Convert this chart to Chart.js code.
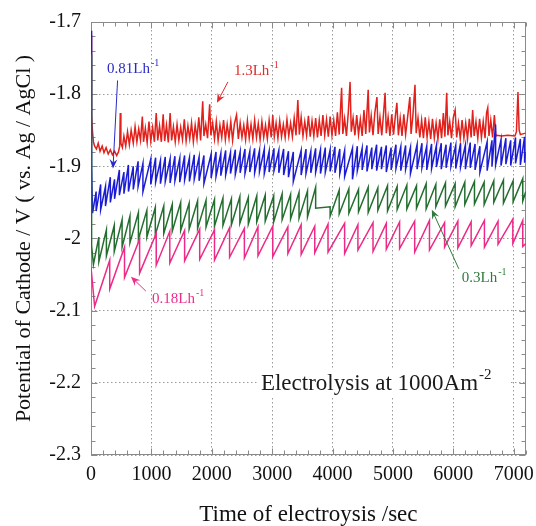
<!DOCTYPE html>
<html>
<head>
<meta charset="utf-8">
<script src="https://cdn.jsdelivr.net/npm/chart.js@4.4.0/dist/chart.umd.min.js"></script>
<style>
  html, body { margin: 0; padding: 0; background: #fff; }
</style>
</head>
<body>
<canvas id="potentialChart" width="536" height="526"></canvas>
<script>
// cathode potential vs time, four air flow rates

// 0.18 Lh-1 : start, then sawtooth (drop time, value before drop, value after drop)
const pinkHeadTime = [0, 60];
const pinkHeadVolt = [-2.040, -2.094];
const pinkDrop = [310, 555, 805, 1080, 1305, 1550, 1800, 2045, 2295, 2540,
  2765, 3010, 3260, 3480, 3705, 3925, 4200, 4420, 4670, 4890,
  5110, 5360, 5605, 5855, 6075, 6295, 6515, 6740, 6985, 7150];
const pinkPeak = [-2.030, -2.012, -2.001, -1.993, -1.990, -1.989, -1.987, -1.988, -1.985, -1.986,
  -1.984, -1.983, -1.984, -1.981, -1.983, -1.980, -1.979, -1.981, -1.978, -1.979,
  -1.977, -1.976, -1.975, -1.978, -1.976, -1.977, -1.975, -1.976, -1.973, -1.975];
const pinkTrough = [-2.070, -2.054, -2.048, -2.037, -2.034, -2.031, -2.029, -2.030, -2.026, -2.027,
  -2.024, -2.025, -2.021, -2.022, -2.020, -2.019, -2.021, -2.016, -2.018, -2.015,
  -2.014, -2.019, -2.016, -2.012, -2.013, -2.010, -2.012, -2.008, -2.007, -2.011];
const pinkTailTime = [7200];
const pinkTailVolt = [-2.007];

// 0.3 Lh-1
const greenHeadTime = [0, 5, 15, 40];
const greenHeadVolt = [-1.745, -1.960, -2.010, -2.036];
const greenDrop = [130, 255, 385, 515, 645, 785, 925, 1065, 1205, 1345,
  1485, 1625, 1765, 1905, 2045, 2185, 2325, 2465, 2605, 2745,
  2885, 3025, 3165, 3305, 3445, 3585, 3720, 3960, 4110, 4270,
  4430, 4590, 4750, 4910, 5070, 5230, 5390, 5550, 5710, 5870,
  6030, 6190, 6350, 6510, 6670, 6830, 6990, 7150];
const greenPeak = [-1.998, -1.988, -1.982, -1.974, -1.969, -1.964, -1.961, -1.957, -1.955, -1.953,
  -1.950, -1.951, -1.948, -1.947, -1.946, -1.944, -1.945, -1.942, -1.943, -1.941,
  -1.940, -1.941, -1.938, -1.939, -1.936, -1.934, -1.929, -1.956, -1.933, -1.931,
  -1.932, -1.929, -1.930, -1.927, -1.928, -1.926, -1.927, -1.924, -1.925, -1.923,
  -1.924, -1.922, -1.921, -1.922, -1.920, -1.919, -1.920, -1.917];
const greenTrough = [-2.032, -2.024, -2.018, -2.012, -2.006, -2.001, -1.998, -1.995, -1.993, -1.990,
  -1.989, -1.987, -1.986, -1.984, -1.983, -1.982, -1.981, -1.979, -1.980, -1.977,
  -1.976, -1.977, -1.974, -1.973, -1.972, -1.970, -1.958, -1.969, -1.966, -1.965,
  -1.963, -1.964, -1.961, -1.962, -1.960, -1.959, -1.958, -1.959, -1.956, -1.955,
  -1.956, -1.953, -1.952, -1.953, -1.950, -1.951, -1.949, -1.948];
const greenTailTime = [7200];
const greenTailVolt = [-1.935];

// 0.81 Lh-1
const blueHeadTime = [0, 10, 25];
const blueHeadVolt = [-1.712, -1.900, -1.965];
const blueDrop = [85, 160, 240, 320, 390, 470, 545, 620, 700, 780,
  860, 990, 1070, 1150, 1230, 1310, 1390, 1470, 1550, 1630,
  1710, 1790, 1870, 1990, 2070, 2150, 2230, 2310, 2390, 2470,
  2550, 2630, 2710, 2790, 2870, 2950, 3030, 3110, 3190, 3270,
  3350, 3480, 3560, 3640, 3720, 3800, 3880, 3960, 4040, 4120,
  4200, 4330, 4410, 4490, 4570, 4650, 4730, 4810, 4890, 4970,
  5050, 5130, 5210, 5290, 5400, 5480, 5560, 5640, 5720, 5800,
  5880, 5960, 6040, 6120, 6200, 6280, 6360, 6440, 6560, 6640,
  6700, 6790, 6870, 6950, 7030, 7110, 7180];
const bluePeak = [-1.935, -1.925, -1.928, -1.915, -1.918, -1.905, -1.908, -1.898, -1.900, -1.893,
  -1.896, -1.890, -1.888, -1.892, -1.887, -1.890, -1.886, -1.889, -1.885, -1.888,
  -1.884, -1.887, -1.885, -1.883, -1.880, -1.882, -1.878, -1.881, -1.877, -1.880,
  -1.876, -1.879, -1.875, -1.878, -1.876, -1.879, -1.875, -1.878, -1.876, -1.879,
  -1.880, -1.878, -1.876, -1.879, -1.875, -1.877, -1.874, -1.877, -1.873, -1.876,
  -1.878, -1.875, -1.872, -1.875, -1.871, -1.874, -1.870, -1.873, -1.871, -1.874,
  -1.870, -1.873, -1.871, -1.874, -1.870, -1.868, -1.872, -1.869, -1.871, -1.868,
  -1.870, -1.867, -1.871, -1.868, -1.870, -1.867, -1.869, -1.872, -1.866, -1.864,
  -1.842, -1.863, -1.861, -1.864, -1.860, -1.862, -1.859];
const blueTrough = [-1.962, -1.960, -1.955, -1.950, -1.945, -1.940, -1.938, -1.935, -1.932, -1.928,
  -1.935, -1.925, -1.922, -1.924, -1.921, -1.923, -1.920, -1.922, -1.919, -1.921,
  -1.918, -1.920, -1.924, -1.916, -1.914, -1.913, -1.912, -1.910, -1.911, -1.909,
  -1.910, -1.908, -1.909, -1.907, -1.910, -1.908, -1.906, -1.909, -1.912, -1.915,
  -1.921, -1.912, -1.910, -1.909, -1.908, -1.910, -1.908, -1.907, -1.909, -1.910,
  -1.914, -1.918, -1.906, -1.905, -1.907, -1.904, -1.906, -1.904, -1.908, -1.905,
  -1.903, -1.906, -1.904, -1.910, -1.904, -1.902, -1.905, -1.903, -1.901, -1.904,
  -1.902, -1.900, -1.903, -1.901, -1.904, -1.902, -1.905, -1.908, -1.906, -1.900,
  -1.898, -1.899, -1.897, -1.899, -1.896, -1.898, -1.895];
const blueTailTime = [7200];
const blueTailVolt = [-1.880];

// 1.3 Lh-1, point by point
const redTime = [0, 4, 8, 15, 25, 40, 60, 90, 120, 150,
  185, 215, 250, 285, 320, 355, 390, 425, 455, 475,
  485, 495, 520, 545, 575, 605, 635, 665, 700, 730,
  760, 790, 820, 850, 870, 900, 930, 960, 990, 1020,
  1050, 1080, 1105, 1135, 1165, 1195, 1220, 1250, 1280, 1310,
  1335, 1365, 1395, 1425, 1455, 1485, 1515, 1545, 1575, 1605,
  1635, 1665, 1695, 1725, 1755, 1785, 1815, 1850, 1870, 1900,
  1930, 1965, 1985, 2015, 2045, 2075, 2105, 2135, 2165, 2195,
  2225, 2255, 2285, 2315, 2345, 2375, 2410, 2440, 2470, 2500,
  2530, 2560, 2590, 2620, 2650, 2680, 2710, 2740, 2770, 2800,
  2830, 2860, 2890, 2920, 2950, 2985, 3010, 3035, 3065, 3095,
  3125, 3155, 3185, 3215, 3245, 3275, 3305, 3335, 3365, 3395,
  3425, 3450, 3480, 3510, 3540, 3570, 3600, 3630, 3660, 3690,
  3720, 3750, 3780, 3810, 3840, 3870, 3900, 3930, 3960, 3990,
  4020, 4050, 4080, 4110, 4150, 4170, 4200, 4230, 4260, 4290,
  4310, 4340, 4370, 4400, 4430, 4460, 4490, 4520, 4550, 4590,
  4610, 4640, 4670, 4700, 4735, 4755, 4785, 4815, 4845, 4870,
  4890, 4920, 4950, 4980, 5010, 5040, 5065, 5090, 5120, 5150,
  5180, 5210, 5240, 5280, 5300, 5330, 5365, 5385, 5415, 5445,
  5475, 5505, 5535, 5565, 5595, 5625, 5655, 5685, 5715, 5745,
  5775, 5805, 5835, 5860, 5890, 5910, 5940, 5970, 6000, 6030,
  6055, 6085, 6115, 6145, 6175, 6205, 6235, 6265, 6295, 6320,
  6345, 6375, 6405, 6435, 6465, 6495, 6525, 6550, 6570, 6590,
  6620, 6650, 6680, 6705, 6720, 6800, 6900, 7020, 7045, 7070,
  7090, 7110, 7150, 7200];
const redVolt = [-1.718, -1.760, -1.800, -1.830, -1.852, -1.866, -1.872, -1.876, -1.868, -1.879,
  -1.872, -1.881, -1.874, -1.883, -1.877, -1.884, -1.879, -1.885, -1.880, -1.872,
  -1.826, -1.868, -1.874, -1.858, -1.872, -1.852, -1.870, -1.850, -1.868, -1.845,
  -1.866, -1.848, -1.864, -1.831, -1.866, -1.847, -1.867, -1.838, -1.865, -1.846,
  -1.866, -1.826, -1.864, -1.844, -1.866, -1.828, -1.865, -1.843, -1.867, -1.826,
  -1.864, -1.845, -1.866, -1.842, -1.864, -1.846, -1.863, -1.835, -1.865, -1.844,
  -1.862, -1.840, -1.866, -1.843, -1.862, -1.832, -1.864, -1.810, -1.858, -1.842,
  -1.861, -1.814, -1.857, -1.840, -1.862, -1.838, -1.864, -1.843, -1.860, -1.836,
  -1.863, -1.842, -1.861, -1.838, -1.864, -1.841, -1.829, -1.862, -1.840, -1.860,
  -1.843, -1.863, -1.837, -1.861, -1.842, -1.862, -1.836, -1.860, -1.841, -1.863,
  -1.838, -1.860, -1.843, -1.862, -1.836, -1.860, -1.829, -1.859, -1.840, -1.861,
  -1.837, -1.859, -1.842, -1.860, -1.835, -1.858, -1.840, -1.859, -1.833, -1.857,
  -1.808, -1.856, -1.832, -1.858, -1.838, -1.857, -1.830, -1.859, -1.837, -1.858,
  -1.833, -1.860, -1.836, -1.858, -1.829, -1.857, -1.835, -1.859, -1.831, -1.857,
  -1.836, -1.858, -1.825, -1.856, -1.791, -1.855, -1.834, -1.858, -1.826, -1.783,
  -1.852, -1.833, -1.857, -1.829, -1.856, -1.835, -1.858, -1.822, -1.855, -1.794,
  -1.853, -1.830, -1.857, -1.826, -1.804, -1.855, -1.832, -1.857, -1.826, -1.798,
  -1.854, -1.832, -1.858, -1.828, -1.856, -1.830, -1.812, -1.857, -1.833, -1.858,
  -1.828, -1.856, -1.834, -1.804, -1.855, -1.830, -1.787, -1.854, -1.833, -1.860,
  -1.836, -1.861, -1.832, -1.860, -1.838, -1.862, -1.834, -1.861, -1.840, -1.862,
  -1.835, -1.861, -1.826, -1.859, -1.798, -1.857, -1.838, -1.861, -1.832, -1.822,
  -1.860, -1.840, -1.862, -1.836, -1.861, -1.840, -1.862, -1.834, -1.860, -1.822,
  -1.858, -1.838, -1.861, -1.834, -1.860, -1.838, -1.861, -1.826, -1.819, -1.858,
  -1.836, -1.860, -1.829, -1.858, -1.857, -1.858, -1.857, -1.858, -1.852, -1.797,
  -1.850, -1.856, -1.855, -1.854];

// axis ticks
const timeTicks = [0, 1000, 2000, 3000, 4000, 5000, 6000, 7000];
const xMax = 7200;
const yMin = -2.3;
const yMax = -1.7;

const SERIF = '"Liberation Serif", "Times New Roman", serif';

function points(t, v) {
    return t.map((x, i) => ({ x: x, y: v[i] }));
}

// each drop is drawn as a vertical step: value before, value after
function sawtooth(headT, headV, drop, peak, trough, tailT, tailV) {
    let out = points(headT, headV);
    for (let i = 0; i < drop.length; i++) {
        out.push({ x: drop[i], y: peak[i] });
        out.push({ x: drop[i], y: trough[i] });
    }
    return out.concat(points(tailT, tailV));
}

// labels with arrows, placed in data units
const notes = [
    { text: '0.81Lh', sup: '-1', color: '#2a2ac8', at: [265, -1.765], from: [440, -1.781], to: [364, -1.903] },
    { text: '1.3Lh', sup: '-1', color: '#e02a2a', at: [2367, -1.768], from: [2267, -1.783], to: [2085, -1.812] },
    { text: '0.18Lh', sup: '-1', color: '#ec2d8a', at: [1010, -2.084], from: [910, -2.073], to: [662, -2.053] },
    { text: '0.3Lh', sup: '-1', color: '#2f7a3c', at: [6140, -2.055], from: [6090, -2.042], to: [5644, -1.960] }
];

function drawSup(ctx, text, sup, px, py, size, color) {
    ctx.fillStyle = color;
    ctx.textAlign = 'left';
    ctx.textBaseline = 'middle';
    ctx.font = size + 'px ' + SERIF;
    ctx.fillText(text, px, py);
    const w = ctx.measureText(text).width;
    ctx.font = Math.round(size * 0.65) + 'px ' + SERIF;
    ctx.fillText(sup, px + w + 1, py - size * 0.4);
    return w + ctx.measureText(sup).width + 1;
}

function drawArrow(ctx, x0, y0, x1, y1, color) {
    const a = Math.atan2(y1 - y0, x1 - x0);
    ctx.strokeStyle = color;
    ctx.fillStyle = color;
    ctx.lineWidth = 1;
    ctx.beginPath();
    ctx.moveTo(x0, y0);
    ctx.lineTo(x1 - 5 * Math.cos(a), y1 - 5 * Math.sin(a));
    ctx.stroke();
    ctx.beginPath();
    ctx.moveTo(x1, y1);
    ctx.lineTo(x1 - 10 * Math.cos(a - 0.4), y1 - 10 * Math.sin(a - 0.4));
    ctx.lineTo(x1 - 6 * Math.cos(a), y1 - 6 * Math.sin(a));
    ctx.lineTo(x1 - 10 * Math.cos(a + 0.4), y1 - 10 * Math.sin(a + 0.4));
    ctx.closePath();
    ctx.fill();
}

// frame with inward major/minor ticks on all four sides
const frameTicks = {
    id: 'frameTicks',
    beforeDatasetsDraw(chart) {
        const { ctx, chartArea: a, scales: { x, y } } = chart;
        const L = Math.round(a.left) + 0.5, R = Math.round(a.right) - 0.5;
        const T = Math.round(a.top) + 0.5, B = Math.round(a.bottom) - 0.5;
        ctx.save();
        ctx.strokeStyle = '#8a8a8a';
        ctx.lineWidth = 1;
        ctx.beginPath();
        for (let t = 0; t <= xMax; t += 200) {
            const px = Math.round(x.getPixelForValue(t)) + 0.5;
            const len = t % 1000 === 0 ? 6 : 4;
            ctx.moveTo(px, B); ctx.lineTo(px, B - len);
            ctx.moveTo(px, T); ctx.lineTo(px, T + len);
        }
        for (let k = 0; k <= 30; k++) {
            const py = Math.round(y.getPixelForValue(yMin + k * 0.02)) + 0.5;
            const len = k % 5 === 0 ? 6 : 4;
            ctx.moveTo(L, py); ctx.lineTo(L + len, py);
            ctx.moveTo(R, py); ctx.lineTo(R - len, py);
        }
        ctx.stroke();
        ctx.strokeRect(L, T, R - L, B - T);
        ctx.restore();
    }
};

const labelsAndArrows = {
    id: 'labelsAndArrows',
    afterDatasetsDraw(chart) {
        const { ctx, scales: { x, y } } = chart;
        ctx.save();
        notes.forEach(n => {
            drawArrow(ctx, x.getPixelForValue(n.from[0]), y.getPixelForValue(n.from[1]),
                x.getPixelForValue(n.to[0]), y.getPixelForValue(n.to[1]), n.color);
            drawSup(ctx, n.text, n.sup, x.getPixelForValue(n.at[0]), y.getPixelForValue(n.at[1]), 15, n.color);
        });
        // condition label on a white box over the grid
        const px = x.getPixelForValue(2814), py = y.getPixelForValue(-2.2);
        ctx.fillStyle = '#ffffff';
        ctx.fillRect(px - 4, py - 14, 252, 28);
        drawSup(ctx, 'Electrolysis at 1000Am', '-2', px, py + 1, 23, '#1a1a1a');
        ctx.restore();
    }
};

const graph = document.querySelector('#potentialChart');
new Chart(graph, {
    type: 'line',
    data: {
        datasets: [
            { data: sawtooth(pinkHeadTime, pinkHeadVolt, pinkDrop, pinkPeak, pinkTrough, pinkTailTime, pinkTailVolt), borderColor: '#ee2a88' },
            { data: sawtooth(greenHeadTime, greenHeadVolt, greenDrop, greenPeak, greenTrough, greenTailTime, greenTailVolt), borderColor: '#236e2f' },
            { data: sawtooth(blueHeadTime, blueHeadVolt, blueDrop, bluePeak, blueTrough, blueTailTime, blueTailVolt), borderColor: '#1c1cd4' },
            { data: points(redTime, redVolt), borderColor: '#e2211c' }
        ]
    },
    options: {
        responsive: false,
        animation: false,
        layout: { padding: { top: 22, right: 10, bottom: 0, left: 0 } },
        elements: {
            line: { borderWidth: 1.5, tension: 0 },
            point: { radius: 0, hoverRadius: 0 }
        },
        plugins: {
            legend: { display: false },
            tooltip: { enabled: false }
        },
        scales: {
            x: {
                type: 'linear',
                min: 0,
                max: xMax,
                afterFit(scale) { scale.height = 71; },
                afterBuildTicks(scale) { scale.ticks = timeTicks.map(v => ({ value: v })); },
                grid: { color: '#9a9a9a', lineWidth: 1, drawTicks: false },
                border: { display: false, dash: [1.5, 2.5] },
                ticks: {
                    autoSkip: false,
                    maxRotation: 0,
                    padding: 2,
                    color: '#111',
                    font: { family: SERIF, size: 20, lineHeight: 1.8 },
                    callback: v => String(v)
                },
                title: {
                    display: true,
                    text: 'Time of electroysis /sec',
                    color: '#111',
                    font: { family: SERIF, size: 23, lineHeight: 1.0 },
                    padding: { top: 0, bottom: 0 }
                }
            },
            y: {
                min: yMin,
                max: yMax,
                afterFit(scale) { scale.width = 91; },
                grid: { color: '#9a9a9a', lineWidth: 1, drawTicks: false },
                border: { display: false, dash: [1.5, 2.5] },
                ticks: {
                    stepSize: 0.1,
                    padding: 10,
                    color: '#111',
                    font: { family: SERIF, size: 20 },
                    callback: v => String(Math.round(v * 10) / 10)
                },
                title: {
                    display: true,
                    text: 'Potential of Cathode / V ( vs. Ag / AgCl )',
                    color: '#111',
                    font: { family: SERIF, size: 22 },
                    padding: { top: 11, bottom: 0 }
                }
            }
        }
    },
    plugins: [frameTicks, labelsAndArrows]
});
</script>
</body>
</html>
